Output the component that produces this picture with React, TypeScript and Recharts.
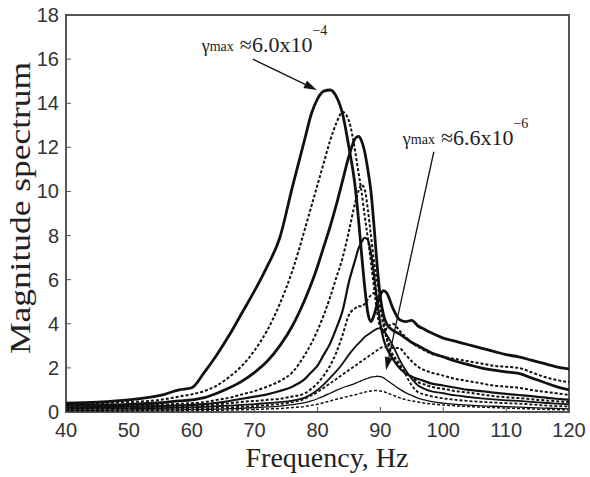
import React from 'react';
import { LineChart, Line, XAxis, YAxis, ReferenceArea, ReferenceLine } from 'recharts';

// frequency grid, Hz
const FREQ = [40, 45, 50, 55, 58, 60, 62, 64, 66, 68, 70, 72, 74, 76, 78, 79, 80, 81, 82, 83, 84, 85, 86, 86.5, 87, 87.5, 88, 88.5, 89, 89.5, 90, 90.5, 91, 92, 93, 94, 95, 96, 97, 98, 100, 102, 104, 106, 108, 110, 112, 114, 116, 118, 120];

// magnitude spectra, largest excitation first
const C1 = [0.4, 0.45, 0.55, 0.75, 1.0, 1.1, 1.8, 2.6, 3.5, 4.5, 5.5, 6.6, 7.9, 10.2, 12.4, 13.5, 14.2, 14.55, 14.6, 14.3, 13.5, 12.0, 10.2, 8.8, 7.2, 5.7, 4.5, 4.1, 4.4, 4.9, 5.3, 5.5, 5.4, 4.7, 4.2, 4.1, 4.15, 3.9, 3.75, 3.6, 3.35, 3.2, 3.05, 2.9, 2.75, 2.6, 2.5, 2.35, 2.2, 2.05, 1.95];
const C2 = [0.35, 0.4, 0.45, 0.55, 0.7, 0.8, 0.95, 1.2, 1.6, 2.1, 2.8, 3.7, 4.9, 6.4, 8.3, 9.3, 10.3, 11.3, 12.3, 13.1, 13.6, 13.2, 11.8, 10.9, 10.0, 8.9, 7.9, 6.8, 5.6, 4.5, 3.8, 3.6, 3.8, 4.0, 3.7, 3.4, 3.15, 2.95, 2.8, 2.65, 2.5, 2.4, 2.3, 2.2, 2.1, 2.05, 2.0, 1.8, 1.6, 1.45, 1.35];
const C3 = [0.3, 0.32, 0.35, 0.42, 0.5, 0.55, 0.65, 0.85, 1.1, 1.4, 1.8, 2.3, 3.0, 3.9, 5.1, 5.8, 6.6, 7.5, 8.4, 9.4, 10.5, 11.6, 12.4, 12.5, 12.3, 11.8, 11.0, 10.0, 8.4, 6.6, 5.2, 4.4, 4.0, 3.7, 3.55, 3.35, 3.15, 3.0, 2.85, 2.7, 2.5, 2.3, 2.15, 2.0, 1.9, 1.82, 1.75, 1.55, 1.35, 1.15, 1.0];
const C4 = [0.25, 0.27, 0.3, 0.33, 0.37, 0.4, 0.45, 0.55, 0.65, 0.8, 0.95, 1.15, 1.4, 1.8, 2.6, 3.1, 3.7, 4.4, 5.2, 6.1, 7.0, 8.2, 9.5, 10.0, 10.3, 10.1, 9.2, 8.0, 6.8, 5.9, 5.0, 4.2, 3.4, 2.9, 2.9, 2.6, 2.3, 2.05, 1.9, 1.8, 1.65, 1.5, 1.4, 1.3, 1.2, 1.15, 1.1, 1.0, 0.92, 0.85, 0.77];
const C5 = [0.2, 0.22, 0.24, 0.27, 0.3, 0.32, 0.36, 0.42, 0.5, 0.6, 0.7, 0.8, 0.95, 1.15, 1.5, 1.8, 2.1, 2.6, 3.1, 3.8, 4.6, 5.9, 6.9, 7.4, 7.7, 7.9, 7.8, 7.2, 6.2, 5.0, 4.0, 3.3, 2.9, 2.4, 2.0, 1.75, 1.6, 1.5, 1.4, 1.3, 1.2, 1.1, 1.0, 0.95, 0.88, 0.82, 0.77, 0.72, 0.66, 0.6, 0.55];
const C6 = [0.18, 0.19, 0.2, 0.22, 0.24, 0.26, 0.3, 0.34, 0.4, 0.46, 0.5, 0.55, 0.6, 0.7, 0.85, 1.05, 1.3, 1.65, 2.1, 2.7, 3.5, 4.4, 4.7, 4.8, 4.8, 4.9, 5.1, 5.3, 5.4, 5.2, 4.6, 3.9, 3.3, 2.5, 2.1, 1.8, 1.6, 1.35, 1.25, 1.15, 1.05, 0.95, 0.88, 0.8, 0.72, 0.67, 0.63, 0.58, 0.53, 0.49, 0.45];
const C7 = [0.15, 0.16, 0.17, 0.18, 0.2, 0.21, 0.23, 0.26, 0.29, 0.32, 0.36, 0.4, 0.45, 0.52, 0.65, 0.8, 1.0, 1.25, 1.55, 1.85, 2.2, 2.6, 2.95, 3.1, 3.25, 3.4, 3.5, 3.6, 3.7, 3.78, 3.8, 3.7, 3.5, 3.0, 2.4, 1.9, 1.5, 1.2, 1.05, 0.95, 0.85, 0.75, 0.68, 0.62, 0.57, 0.53, 0.5, 0.46, 0.42, 0.38, 0.35];
const C8 = [0.12, 0.12, 0.13, 0.14, 0.15, 0.16, 0.17, 0.19, 0.21, 0.24, 0.27, 0.31, 0.36, 0.45, 0.6, 0.75, 0.9, 1.1, 1.3, 1.5, 1.7, 1.9, 2.1, 2.2, 2.3, 2.4, 2.5, 2.6, 2.7, 2.8, 2.9, 2.95, 2.95, 2.6, 2.2, 1.7, 1.2, 0.9, 0.8, 0.72, 0.62, 0.55, 0.5, 0.46, 0.43, 0.4, 0.38, 0.34, 0.3, 0.27, 0.25];
const C9 = [0.08, 0.08, 0.09, 0.1, 0.1, 0.11, 0.12, 0.13, 0.15, 0.17, 0.2, 0.23, 0.27, 0.33, 0.42, 0.5, 0.6, 0.72, 0.85, 0.98, 1.1, 1.2, 1.3, 1.36, 1.42, 1.48, 1.53, 1.58, 1.6, 1.62, 1.6, 1.55, 1.45, 1.25, 1.05, 0.88, 0.75, 0.63, 0.55, 0.48, 0.4, 0.35, 0.31, 0.28, 0.26, 0.24, 0.22, 0.2, 0.18, 0.16, 0.14];
const C10 = [0.05, 0.05, 0.05, 0.06, 0.06, 0.07, 0.07, 0.08, 0.09, 0.1, 0.12, 0.14, 0.16, 0.2, 0.25, 0.3, 0.35, 0.42, 0.5, 0.58, 0.65, 0.72, 0.78, 0.82, 0.86, 0.9, 0.93, 0.95, 0.97, 0.97, 0.95, 0.92, 0.87, 0.76, 0.65, 0.56, 0.5, 0.45, 0.4, 0.37, 0.32, 0.28, 0.25, 0.22, 0.2, 0.18, 0.16, 0.14, 0.12, 0.11, 0.1];

const XTICKS = [40, 50, 60, 70, 80, 90, 100, 110, 120];
const YTICKS = [0, 2, 4, 6, 8, 10, 12, 14, 16, 18];

// annotation arrows: [start, tip] in data units
const ARROW_HI = [{ x: 69.7, y: 16.0 }, { x: 79.9, y: 14.6 }];
const ARROW_LO = [{ x: 98.5, y: 11.8 }, { x: 90.9, y: 1.9 }];
const LABEL_HI = { value: '6.0x10', exp: '\u22124' };
const LABEL_LO = { value: '6.6x10', exp: '\u22126' };

const SERIES = [
  { key: 'c1', values: C1, width: 2.8, dash: undefined },
  { key: 'c2', values: C2, width: 2, dash: '3 2' },
  { key: 'c3', values: C3, width: 2.8, dash: undefined },
  { key: 'c4', values: C4, width: 2, dash: '3 2' },
  { key: 'c5', values: C5, width: 2.2, dash: undefined },
  { key: 'c6', values: C6, width: 2, dash: '3 2' },
  { key: 'c7', values: C7, width: 1.8, dash: undefined },
  { key: 'c8', values: C8, width: 1.8, dash: '3 2' },
  { key: 'c9', values: C9, width: 1.3, dash: undefined },
  { key: 'c10', values: C10, width: 1.5, dash: '3 2' },
];

const data = FREQ.map((f, i) => {
  const row: any = { f };
  SERIES.forEach(s => { row[s.key] = s.values[i]; });
  return row;
});

const PLOT = { left: 66, right: 569, top: 15, bottom: 412 };
const SERIF = '"Liberation Serif", "Times New Roman", serif';
const SANS = '"Liberation Sans", Arial, sans-serif';
const AXIS_GRAY = '#555';

const XTick = ({ x, payload }: any) => (
  <g>
    <line x1={x} x2={x} y1={PLOT.bottom} y2={PLOT.bottom - 5} stroke={AXIS_GRAY} strokeWidth={1} />
    <text x={x} y={PLOT.bottom + 25} textAnchor="middle" fontFamily={SANS} fontSize={20} fill="#333">
      {payload.value}
    </text>
  </g>
);

const YTick = ({ y, payload }: any) => (
  <g>
    <line x1={PLOT.left} x2={PLOT.left + 5} y1={y} y2={y} stroke={AXIS_GRAY} strokeWidth={1} />
    <text x={PLOT.left - 7} y={y + 7} textAnchor="end" fontFamily={SANS} fontSize={20} fill="#333">
      {payload.value}
    </text>
  </g>
);

function makeArrow(label: { value: string; exp: string }, dx: number, dy: number) {
  return (props: any) => {
    const { x1, y1, x2, y2 } = props;
    const ang = Math.atan2(y2 - y1, x2 - x1);
    const len = 13;
    const hw = 4;
    const bx = x2 - len * Math.cos(ang);
    const by = y2 - len * Math.sin(ang);
    const px = -Math.sin(ang) * hw;
    const py = Math.cos(ang) * hw;
    const tx = x1 + dx;
    const ty = y1 + dy;
    return (
      <g>
        <line x1={x1} y1={y1} x2={bx} y2={by} stroke="#111" strokeWidth={1.3} />
        <polygon points={`${x2},${y2} ${bx + px},${by + py} ${bx - px},${by - py}`} fill="#111" />
        <text x={tx} y={ty} fontFamily={SERIF} fill="#222">
          <tspan fontSize={18}>γ</tspan>
          <tspan fontSize={14} dy={-1}>max</tspan>
          <tspan fontSize={22} dx={6} dy={1}>≈{label.value}</tspan>
          <tspan fontSize={14} dy={-17}>{label.exp}</tspan>
        </text>
      </g>
    );
  };
}

export default function App() {
  return (
    <div style={{ position: 'absolute', left: 0, top: 0, width: 590, height: 477, background: '#fff' }}>
      <LineChart width={590} height={477} data={data} margin={{ top: 15, right: 21, left: 0, bottom: 0 }}>
        <XAxis
          dataKey="f"
          type="number"
          domain={[40, 120]}
          ticks={XTICKS}
          tick={<XTick />}
          tickLine={false}
          axisLine={false}
          height={65}
          allowDataOverflow
        />
        <YAxis
          type="number"
          domain={[0, 18]}
          ticks={YTICKS}
          tick={<YTick />}
          tickLine={false}
          axisLine={false}
          width={66}
          allowDataOverflow
        />
        {SERIES.map(s => (
          <Line
            key={s.key}
            dataKey={s.key}
            type="monotone"
            stroke="#111"
            strokeWidth={s.width}
            strokeDasharray={s.dash}
            dot={false}
            isAnimationActive={false}
          />
        ))}
        <ReferenceArea x1={40} x2={120} y1={0} y2={18} fill="none" stroke={AXIS_GRAY} strokeWidth={2} />
        <ReferenceLine segment={ARROW_HI} shape={makeArrow(LABEL_HI, -51, -7)} />
        <ReferenceLine segment={ARROW_LO} shape={makeArrow(LABEL_LO, -31, -7)} />
      </LineChart>
      <div
        style={{
          position: 'absolute', left: 0, top: 0, width: 590, height: 477, pointerEvents: 'none',
        }}
      >
        <svg width={590} height={477}>
          <text x={327} y={467} textAnchor="middle" fontFamily={SERIF} fontSize={28} fill="#222">
            Frequency, Hz
          </text>
          <text
            x={30}
            y={208}
            textAnchor="middle"
            fontFamily={SERIF}
            fontSize={30}
            fill="#222"
            textLength={292}
            lengthAdjust="spacingAndGlyphs"
            transform="rotate(-90, 30, 208)"
          >
            Magnitude spectrum
          </text>
        </svg>
      </div>
    </div>
  );
}
